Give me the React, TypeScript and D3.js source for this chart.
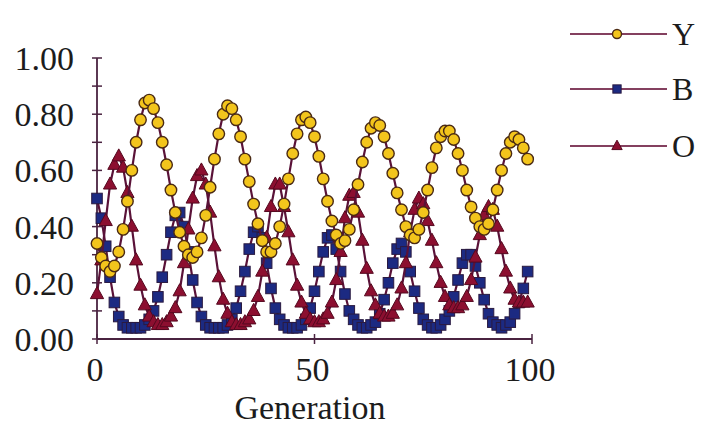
import { useMemo } from "react";
import * as d3 from "d3";

// Morph frequencies per generation
const Y_FREQ = [
  0.34, 0.29, 0.26, 0.24, 0.26, 0.31, 0.39, 0.49, 0.6, 0.7,
  0.78, 0.84, 0.85, 0.82, 0.77, 0.7, 0.62, 0.53, 0.45, 0.38,
  0.33, 0.3, 0.29, 0.31, 0.36, 0.44, 0.54, 0.64, 0.73, 0.8,
  0.83, 0.82, 0.78, 0.72, 0.64, 0.56, 0.48, 0.41, 0.35, 0.31,
  0.31, 0.34, 0.4, 0.48, 0.57, 0.66, 0.73, 0.78, 0.79, 0.77,
  0.72, 0.65, 0.57, 0.49, 0.42, 0.37, 0.34, 0.35, 0.39, 0.46,
  0.55, 0.63, 0.7, 0.75, 0.77, 0.76, 0.72, 0.66, 0.59, 0.52,
  0.46, 0.4, 0.37, 0.36, 0.39, 0.45, 0.53, 0.61, 0.68, 0.72,
  0.74, 0.74, 0.71, 0.66, 0.6, 0.53, 0.47, 0.43, 0.4, 0.39,
  0.41, 0.46, 0.53, 0.6, 0.66, 0.7, 0.72, 0.71, 0.68, 0.64,
];

const B_FREQ = [
  0.5, 0.43, 0.33, 0.22, 0.13, 0.08, 0.05, 0.04, 0.04, 0.04,
  0.04, 0.05, 0.07, 0.1, 0.15, 0.22, 0.3, 0.38, 0.44, 0.45,
  0.4, 0.31, 0.21, 0.13, 0.08, 0.05, 0.04, 0.04, 0.04, 0.04,
  0.05, 0.07, 0.11, 0.17, 0.24, 0.32, 0.38, 0.4, 0.36, 0.27,
  0.18, 0.11, 0.07, 0.05, 0.04, 0.04, 0.04, 0.05, 0.07, 0.11,
  0.17, 0.24, 0.31, 0.36, 0.37, 0.32, 0.24, 0.16, 0.1, 0.07,
  0.05, 0.04, 0.04, 0.05, 0.06, 0.09, 0.14, 0.2, 0.27, 0.32,
  0.34, 0.31, 0.24, 0.17, 0.11, 0.07, 0.05, 0.04, 0.04, 0.05,
  0.07, 0.1, 0.15, 0.21, 0.27, 0.3, 0.3, 0.26, 0.2, 0.14,
  0.09, 0.06, 0.05, 0.04, 0.05, 0.06, 0.09, 0.13, 0.18, 0.24,
];

const O_FREQ = [
  0.16, 0.28, 0.42, 0.55, 0.62, 0.65, 0.61, 0.52, 0.4, 0.28,
  0.19, 0.12, 0.08, 0.06, 0.05, 0.05, 0.06, 0.08, 0.11, 0.17,
  0.27, 0.39, 0.5, 0.58, 0.6, 0.55, 0.45, 0.33, 0.22, 0.14,
  0.09, 0.06, 0.05, 0.05, 0.06, 0.07, 0.1, 0.15, 0.24, 0.36,
  0.47, 0.55, 0.55, 0.47, 0.38, 0.28, 0.19, 0.13, 0.09, 0.07,
  0.06, 0.06, 0.07, 0.09, 0.13, 0.21, 0.31, 0.43, 0.51, 0.52,
  0.45, 0.35, 0.25, 0.17, 0.12, 0.09, 0.08, 0.08, 0.09, 0.12,
  0.18, 0.27, 0.38, 0.46, 0.5, 0.48, 0.42, 0.35, 0.27, 0.2,
  0.15, 0.12, 0.11, 0.11, 0.12, 0.15, 0.21, 0.29, 0.37, 0.44,
  0.47, 0.46, 0.4, 0.32, 0.24, 0.18, 0.14, 0.13, 0.13, 0.13,
];

const SERIES_NAMES = ["Y", "B", "O"];
const X_TICKS = [0, 50, 100];
const Y_TICKS = [0, 0.2, 0.4, 0.6, 0.8, 1.0];
const Y_MINOR_TICKS = [0, 0.1, 0.2, 0.3, 0.4, 0.5, 0.6, 0.7, 0.8, 0.9, 1.0];
const X_LABEL = "Generation";

const WIDTH = 707;
const HEIGHT = 436;
const PLOT = { left: 97, right: 532, top: 58, bottom: 339 };
const FONT = "'Liberation Serif', 'DejaVu Serif', serif";
const LINE_COLOR = "#5a1238";
const AXIS_COLOR = "#4a2340";
const TEXT_COLOR = "#1c1c1c";
const TICK = 5;

type Marker = "circle" | "square" | "triangle";
const STYLES: { fill: string; stroke: string; marker: Marker }[] = [
  { fill: "#f3c51c", stroke: "#4a2a14", marker: "circle" },
  { fill: "#1c2a82", stroke: "#2a1a40", marker: "square" },
  { fill: "#8c0f30", stroke: "#55081f", marker: "triangle" },
];

const MarkerShape = ({ x, y, kind, fill, stroke, size }: { x: number; y: number; kind: Marker; fill: string; stroke: string; size: number }) => {
  if (kind === "circle") {
    return <circle cx={x} cy={y} r={size * 0.5} fill={fill} stroke={stroke} strokeWidth={1.4} />;
  }
  if (kind === "square") {
    const s = size * 0.92;
    return <rect x={x - s / 2} y={y - s / 2} width={s} height={s} fill={fill} stroke={stroke} strokeWidth={1} />;
  }
  const h = size * 1.05;
  const w = size * 1.15;
  return (
    <path
      d={`M${x},${y - h * 0.62} L${x + w / 2},${y + h * 0.38} L${x - w / 2},${y + h * 0.38} Z`}
      fill={fill}
      stroke={stroke}
      strokeWidth={1}
      strokeLinejoin="round"
    />
  );
};

export default function App() {
  const xScale = useMemo(() => d3.scaleLinear().domain([0, 100]).range([PLOT.left, PLOT.right]), []);
  const yScale = useMemo(() => d3.scaleLinear().domain([0, 1]).range([PLOT.bottom, PLOT.top]), []);

  const series = [Y_FREQ, B_FREQ, O_FREQ];
  const line = d3
    .line<number>()
    .x((_, i) => xScale(i))
    .y((d) => yScale(d));

  // draw order: B, O, Y on top
  const order = [1, 2, 0];

  return (
    <svg
      width={WIDTH}
      height={HEIGHT}
      style={{ position: "absolute", left: 0, top: 0, background: "#fff", fontFamily: FONT }}
    >
      {/* Y axis */}
      <line x1={PLOT.left} x2={PLOT.left} y1={yScale(1)} y2={yScale(0)} stroke={AXIS_COLOR} strokeWidth={1.8} />
      {Y_MINOR_TICKS.map((t) => (
        <line
          key={t}
          x1={PLOT.left - TICK}
          x2={PLOT.left + TICK}
          y1={yScale(t)}
          y2={yScale(t)}
          stroke={AXIS_COLOR}
          strokeWidth={1.5}
        />
      ))}
      {Y_TICKS.map((t) => (
        <text key={t} x={74} y={yScale(t) + 12} textAnchor="end" fontSize={34} fill={TEXT_COLOR}>
          {t.toFixed(2)}
        </text>
      ))}

      {/* X axis */}
      <line x1={xScale(0)} x2={xScale(100)} y1={PLOT.bottom} y2={PLOT.bottom} stroke={AXIS_COLOR} strokeWidth={1.8} />
      {X_TICKS.map((t) => (
        <g key={t}>
          <line
            x1={xScale(t)}
            x2={xScale(t)}
            y1={PLOT.bottom - TICK}
            y2={PLOT.bottom + TICK}
            stroke={AXIS_COLOR}
            strokeWidth={1.5}
          />
          <text x={xScale(t) - 2} y={381} textAnchor="middle" fontSize={34} fill={TEXT_COLOR}>
            {t}
          </text>
        </g>
      ))}
      <text x={310} y={419} textAnchor="middle" fontSize={34} fill={TEXT_COLOR}>
        {X_LABEL}
      </text>

      {/* Series */}
      {order.map((si) => (
        <g key={si}>
          <path d={line(series[si]) || undefined} fill="none" stroke={LINE_COLOR} strokeWidth={2.2} />
          {series[si].map((v, i) => (
            <MarkerShape
              key={i}
              x={xScale(i)}
              y={yScale(v)}
              kind={STYLES[si].marker}
              fill={STYLES[si].fill}
              stroke={STYLES[si].stroke}
              size={11.5}
            />
          ))}
        </g>
      ))}

      {/* Legend */}
      {SERIES_NAMES.map((name, i) => {
        const ly = [34, 89, 146][i];
        return (
          <g key={name}>
            <line x1={570} x2={667} y1={ly} y2={ly} stroke="#84405f" strokeWidth={1.8} />
            <MarkerShape x={617} y={ly} kind={STYLES[i].marker} fill={STYLES[i].fill} stroke={STYLES[i].stroke} size={9} />
            <text x={672} y={ly + 11} fontSize={32} fill={TEXT_COLOR}>
              {name}
            </text>
          </g>
        );
      })}
    </svg>
  );
}
